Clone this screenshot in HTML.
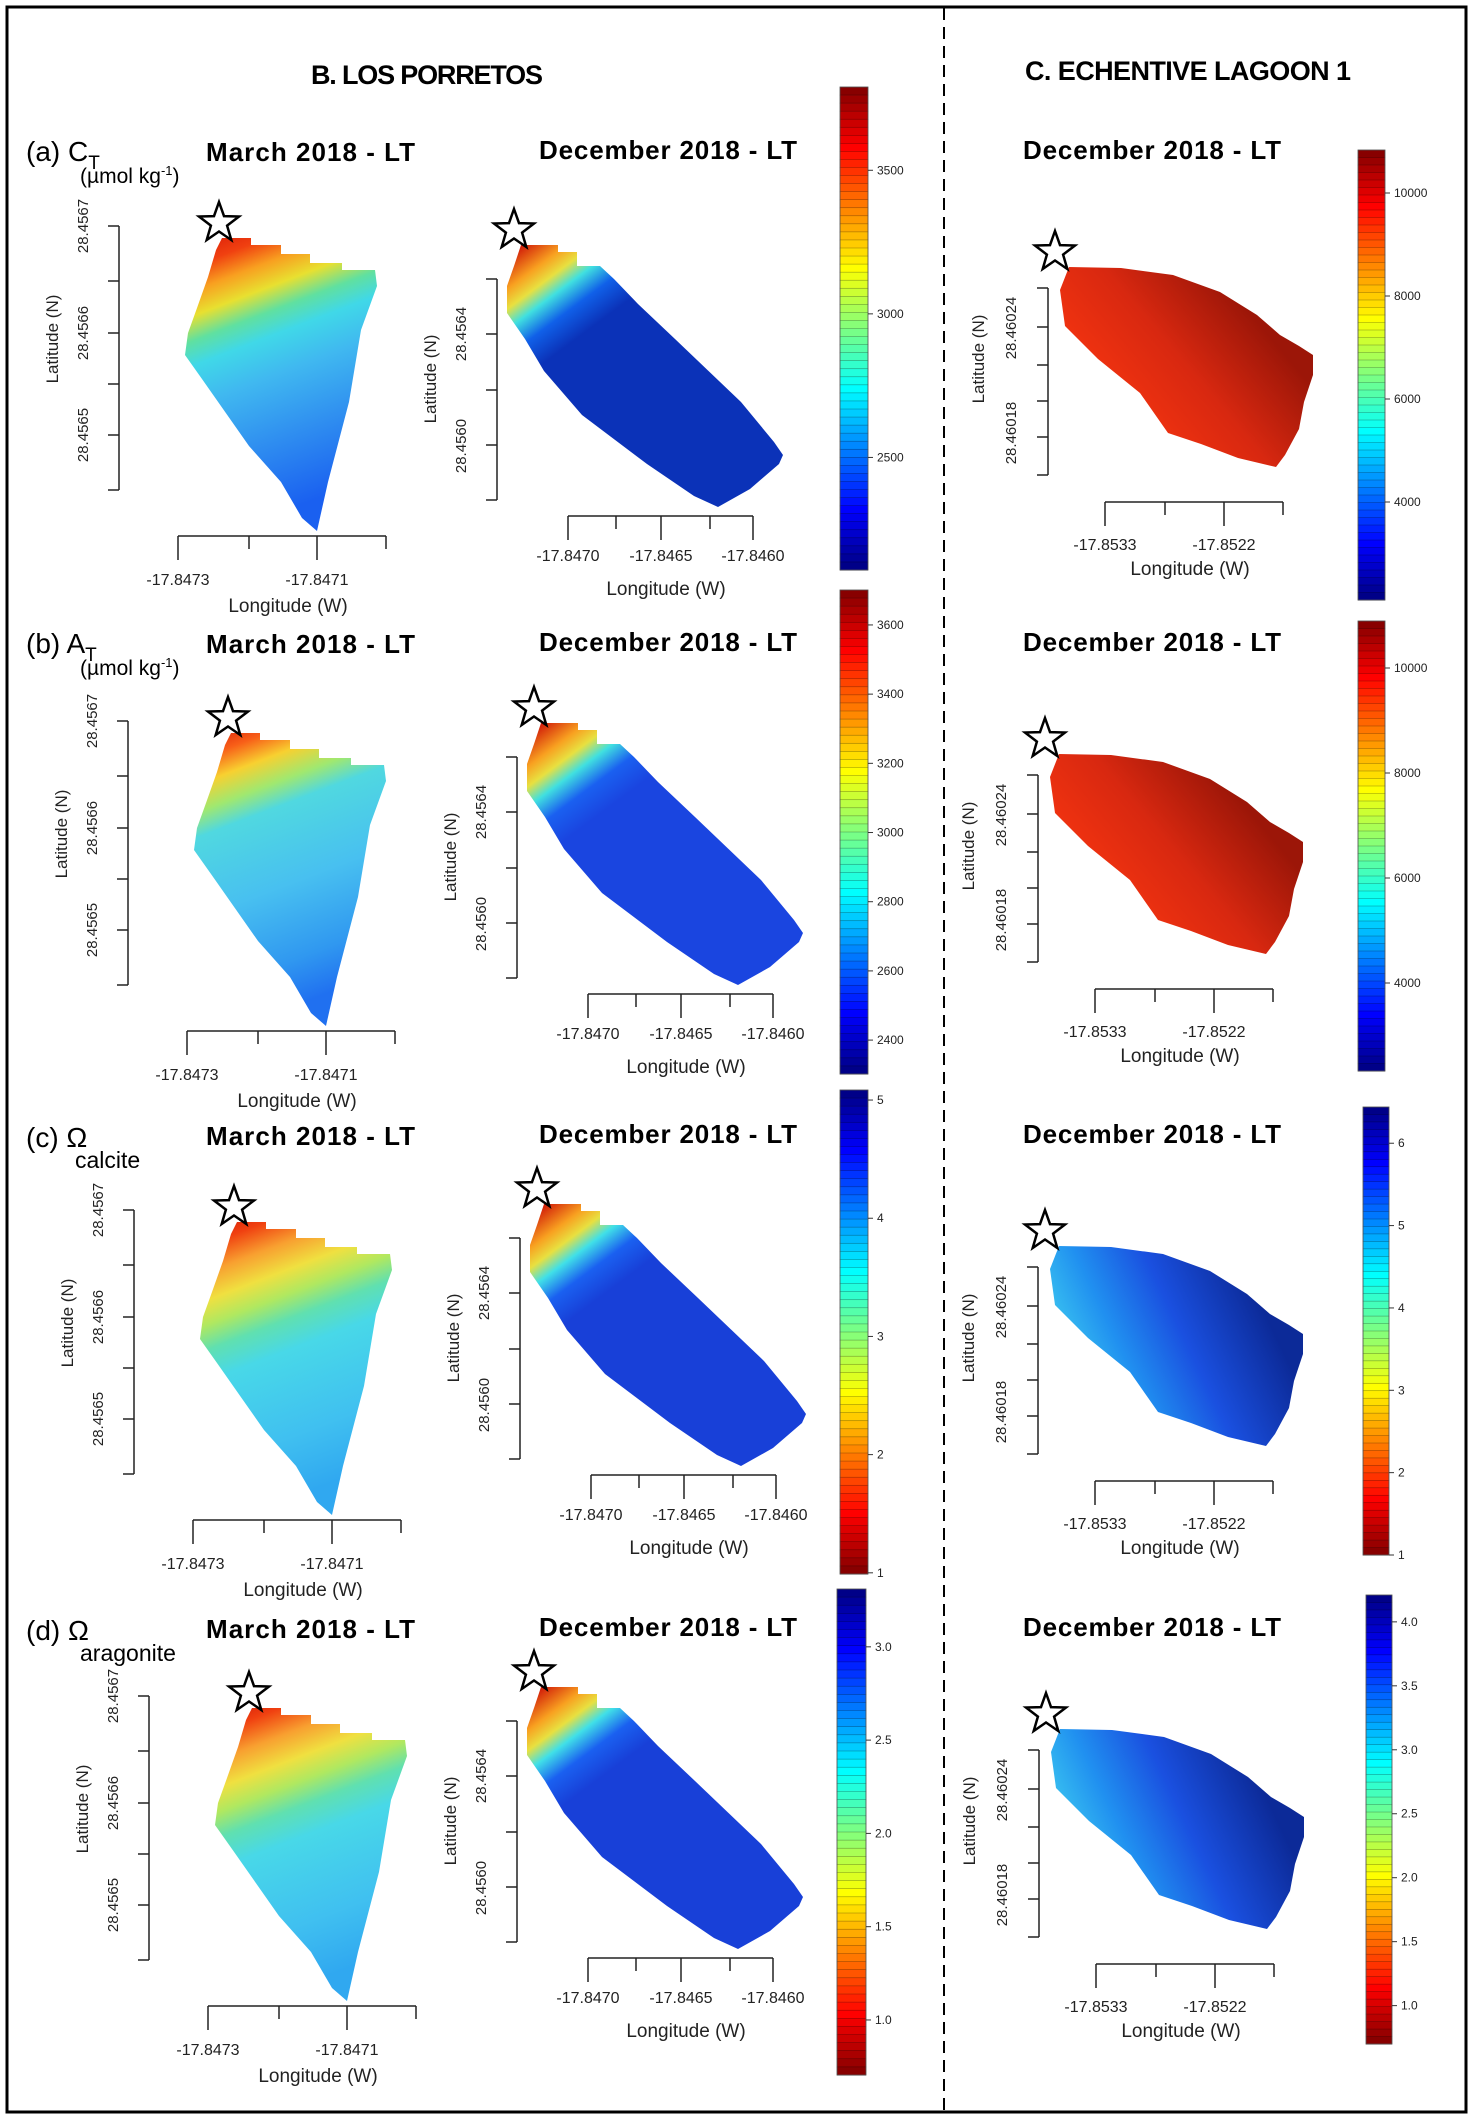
<!DOCTYPE html>
<html><head><meta charset="utf-8"><style>
html,body{margin:0;padding:0;background:#fff}
svg{display:block}
text{font-family:"Liberation Sans",sans-serif}
</style></head><body>
<svg id="fig" xmlns="http://www.w3.org/2000/svg" width="1471" height="2120" viewBox="0 0 1471 2120">
<rect x="0" y="0" width="1471" height="2120" fill="#fff"/>
<defs>
<linearGradient id="gMarA" x1="0" y1="0" x2="0.25" y2="1"><stop offset="0" stop-color="#d81808"/><stop offset="0.1" stop-color="#f04010"/><stop offset="0.18" stop-color="#f8a020"/><stop offset="0.26" stop-color="#e8e030"/><stop offset="0.34" stop-color="#60e0a0"/><stop offset="0.42" stop-color="#40d8e8"/><stop offset="0.55" stop-color="#40b8f0"/><stop offset="0.75" stop-color="#3090f0"/><stop offset="1" stop-color="#1a60f0"/></linearGradient>
<linearGradient id="gMarB" x1="0" y1="0" x2="0.25" y2="1"><stop offset="0" stop-color="#d81808"/><stop offset="0.09" stop-color="#f86018"/><stop offset="0.17" stop-color="#f8d030"/><stop offset="0.26" stop-color="#a0e870"/><stop offset="0.34" stop-color="#50d8e0"/><stop offset="0.6" stop-color="#48c0f0"/><stop offset="0.85" stop-color="#3098f0"/><stop offset="1" stop-color="#2070f0"/></linearGradient>
<linearGradient id="gMarC" x1="0" y1="0" x2="0.25" y2="1"><stop offset="0" stop-color="#d01808"/><stop offset="0.08" stop-color="#f04010"/><stop offset="0.17" stop-color="#f8a030"/><stop offset="0.26" stop-color="#f0e040"/><stop offset="0.34" stop-color="#b0e860"/><stop offset="0.42" stop-color="#60e0b0"/><stop offset="0.52" stop-color="#48d8e8"/><stop offset="0.8" stop-color="#40c0f0"/><stop offset="1" stop-color="#30a8f0"/></linearGradient>
<linearGradient id="gDecA" x1="0.05" y1="0" x2="0.3" y2="0.32"><stop offset="0" stop-color="#d01808"/><stop offset="0.25" stop-color="#f8a020"/><stop offset="0.4" stop-color="#e8e040"/><stop offset="0.55" stop-color="#40e0e0"/><stop offset="0.75" stop-color="#1060e8"/><stop offset="1" stop-color="#0b32b8"/></linearGradient>
<linearGradient id="gDecB" x1="0.05" y1="0" x2="0.3" y2="0.32"><stop offset="0" stop-color="#d01808"/><stop offset="0.25" stop-color="#f8a020"/><stop offset="0.4" stop-color="#e8e040"/><stop offset="0.55" stop-color="#40e0e0"/><stop offset="0.75" stop-color="#1a60f0"/><stop offset="1" stop-color="#1a45e0"/></linearGradient>
<linearGradient id="gDecC" x1="0.05" y1="0" x2="0.3" y2="0.32"><stop offset="0" stop-color="#d01808"/><stop offset="0.25" stop-color="#f8a020"/><stop offset="0.4" stop-color="#e8e040"/><stop offset="0.55" stop-color="#40e0e8"/><stop offset="0.75" stop-color="#1a60f0"/><stop offset="1" stop-color="#1840d8"/></linearGradient>
<linearGradient id="gLagR" x1="0.2" y1="0.7" x2="0.8" y2="0.3"><stop offset="0" stop-color="#f43410"/><stop offset="0.5" stop-color="#d82810"/><stop offset="1" stop-color="#9c1608"/></linearGradient>
<linearGradient id="gLagB" x1="0" y1="0.5" x2="0.8" y2="0.2"><stop offset="0" stop-color="#40d0f0"/><stop offset="0.3" stop-color="#2090f0"/><stop offset="0.6" stop-color="#1a50e0"/><stop offset="1" stop-color="#0c2a98"/></linearGradient>
</defs>
<g id="layer"></g>
</svg>
<script>
// ---- colorbar data (tick values and value ranges) ----
const cbBaTicks = [2500, 3000, 3500];
const cbBaRange = [2108, 3790];
const cbCaTicks = [4000, 6000, 8000, 10000];
const cbCaRange = [2097, 10835];
const cbBbTicks = [2400, 2600, 2800, 3000, 3200, 3400, 3600];
const cbBbRange = [2302, 3701];
const cbCbTicks = [4000, 6000, 8000, 10000];
const cbCbRange = [2324, 10895];
const cbBcTicks = [1, 2, 3, 4, 5];
const cbBcRange = [0.99, 5.085];
const cbCcTicks = [1, 2, 3, 4, 5, 6];
const cbCcRange = [1.0, 6.44];
const cbBdTicks = [1.0, 1.5, 2.0, 2.5, 3.0];
const cbBdRange = [0.705, 3.31];
const cbCdTicks = [1.0, 1.5, 2.0, 2.5, 3.0, 3.5, 4.0];
const cbCdRange = [0.70, 4.21];

const NS = "http://www.w3.org/2000/svg";
const layer = document.getElementById('layer');
function mk(tag, attrs, parent) {
  const e = document.createElementNS(NS, tag);
  for (const k in attrs) e.setAttribute(k, attrs[k]);
  (parent || layer).appendChild(e);
  return e;
}
function txt(s, attrs, parent) { const e = mk('text', attrs, parent); e.textContent = s; return e; }

let fr = mk('rect', {x:7, y:7, width:1459, height:2105, fill:'none', stroke:'#000', 'stroke-width':3});


let dv = mk('line', {x1:944, y1:8, x2:944, y2:2112, stroke:'#000', 'stroke-width':2, 'stroke-dasharray':'12,7'});



let h1 = txt('B. LOS PORRETOS', {x:427, y:84, 'text-anchor':'middle', 'font-size':27, 'font-weight':'bold', textLength:232});


let h2 = txt('C. ECHENTIVE LAGOON 1', {x:1188, y:80, 'text-anchor':'middle', 'font-size':27, 'font-weight':'bold', textLength:326});



function rowLabel(main, sub, y, supLabel, name) {
  const g = mk('g', {});
  
  
  const m = txt(main, {x:26, y:y, 'font-size':28}, g);
  if (sub) { const s = mk('tspan', {dy:8, 'font-size':19}, m); s.textContent = sub; }
  if (supLabel) {
    const t = txt('(µmol kg', {x:80, y:y+22, 'font-size':21}, g);
    const s = mk('tspan', {dy:-8, 'font-size':13}, t); s.textContent = '-1';
    const s2 = mk('tspan', {dy:8, 'font-size':21}, t); s2.textContent = ')';
  }
}
rowLabel('(a) C', 'T', 161, true, 'row-label-ct');
rowLabel('(b) A', 'T', 653, true, 'row-label-at');
rowLabel('(c) Ω', null, 1147, false, 'row-label-omega-calcite');
let sc = txt('calcite', {x:75, y:1168, 'font-size':23});  
rowLabel('(d) Ω', null, 1640, false, 'row-label-omega-aragonite');
let sd = txt('aragonite', {x:80, y:1661, 'font-size':23});  

const titleRowsY = [161, 653, 1145, 1638];
titleRowsY.forEach((y, i) => {
  let t1 = txt('March 2018 - LT', {x:206, y:y, 'font-size':26, 'font-weight':'bold', textLength:209});
  
  
  let t2 = txt('December 2018 - LT', {x:539, y:y-2, 'font-size':26, 'font-weight':'bold', textLength:258});
  
  
  let t3 = txt('December 2018 - LT', {x:1023, y:y-2, 'font-size':26, 'font-weight':'bold', textLength:258});
  
  
});

const shapeMarch = [[222,238],[251,238],[251,245],[281,245],[281,254],[310,254],[310,263],[342,263],[342,270],[375,270],[377,286],[361,330],[349,402],[328,482],[317,531],[302,518],[281,482],[249,446],[202,379],[185,355],[188,333],[197,308],[208,277],[216,250]];
const shapeDec = [[521,245],[558,245],[558,252],[577,252],[577,266],[600,266],[614,279],[638,304],[675,339],[741,402],[774,442],[783,455],[779,464],[750,489],[718,507],[694,496],[647,464],[582,415],[544,371],[525,339],[507,313],[507,286],[514,266]];
const shapeLag = [[1069,267],[1121,268],[1173,275],[1220,292],[1257,315],[1280,335],[1299,346],[1313,355],[1313,375],[1304,402],[1299,429],[1285,455],[1276,467],[1238,458],[1201,444],[1168,433],[1140,393],[1098,359],[1065,326],[1060,290]];

const tplMarch = {shape:shapeMarch, star:[219,223], yx:119, yticks:[226,281,333,384,435,490], ylabs:[[226,'28.4567'],[333,'28.4566'],[435,'28.4565']], ylabx:88, lat:[58,339],
  xy:536, xr:[178,386], xticks:[[178,1],[249,0],[317,1],[386,0]], xlabs:[[178,'-17.8473'],[317,'-17.8471']], xlaby:585, lon:[288,612]};
const tplDec = {shape:shapeDec, star:[514,230], yx:497, yticks:[279,334,390,445,500], ylabs:[[334,'28.4564'],[446,'28.4560']], ylabx:466, lat:[436,379],
  xy:516, xr:[568,753], xticks:[[568,1],[616,0],[661,1],[710,0],[753,1]], xlabs:[[568,'-17.8470'],[661,'-17.8465'],[753,'-17.8460']], xlaby:561, lon:[666,595]};
const tplLag = {shape:shapeLag, star:[1055,252], yx:1048, yticks:[288,327,365,401,437,475], ylabs:[[328,'28.46024'],[433,'28.46018']], ylabx:1016, lat:[984,359],
  xy:502, xr:[1105,1283], xticks:[[1105,1],[1165,0],[1224,1],[1283,0]], xlabs:[[1105,'-17.8533'],[1224,'-17.8522']], xlaby:550, lon:[1190,575]};

function starPts(cx, cy, R, r) {
  const p = [];
  for (let i = 0; i < 10; i++) {
    const a = -Math.PI/2 + i*Math.PI/5, rr = i%2 ? r : R;
    p.push((cx + rr*Math.cos(a)).toFixed(1) + ',' + (cy + rr*Math.sin(a)).toFixed(1));
  }
  return p.join(' ');
}

function panel(tpl, dx, dy, grad, name) {
  const g = mk('g', {transform:'translate(' + dx + ',' + dy + ')'});
  
  
  const poly = mk('polygon', {points: tpl.shape.map(p => p.join(',')).join(' '), fill:'url(#' + grad + ')'}, g);
  
  
  const st = mk('polygon', {points: starPts(tpl.star[0], tpl.star[1], 21, 8.5), fill:'#fff', stroke:'#000', 'stroke-width':2.5}, g);
  
  
  const ya = mk('g', {}, g);
  
  
  mk('line', {x1:tpl.yx, y1:tpl.yticks[0], x2:tpl.yx, y2:tpl.yticks[tpl.yticks.length-1], stroke:'#222', 'stroke-width':1.5}, ya);
  tpl.yticks.forEach(y => mk('line', {x1:tpl.yx-11, y1:y, x2:tpl.yx, y2:y, stroke:'#222', 'stroke-width':1.5}, ya));
  tpl.ylabs.forEach(l => {
    const t = txt(l[1], {x:tpl.ylabx, y:l[0], 'font-size':15, 'text-anchor':'middle', transform:'rotate(-90 ' + tpl.ylabx + ' ' + l[0] + ')', fill:'#222'}, ya);
    
    
  });
  const lt = txt('Latitude (N)', {x:tpl.lat[0], y:tpl.lat[1], 'font-size':17, 'text-anchor':'middle', transform:'rotate(-90 ' + tpl.lat[0] + ' ' + tpl.lat[1] + ')', fill:'#222'}, ya);
  
  
  const xa = mk('g', {}, g);
  
  
  mk('line', {x1:tpl.xr[0], y1:tpl.xy, x2:tpl.xr[1], y2:tpl.xy, stroke:'#222', 'stroke-width':1.5}, xa);
  tpl.xticks.forEach(t => mk('line', {x1:t[0], y1:tpl.xy, x2:t[0], y2:tpl.xy + (t[1] ? 24 : 13), stroke:'#222', 'stroke-width':1.5}, xa));
  tpl.xlabs.forEach(l => {
    const t = txt(l[1], {x:l[0], y:tpl.xlaby, 'font-size':16, 'text-anchor':'middle', fill:'#222'}, xa);
    
    
  });
  const lo = txt('Longitude (W)', {x:tpl.lon[0], y:tpl.lon[1], 'font-size':19, 'text-anchor':'middle', fill:'#222'}, xa);
  
  
}

panel(tplMarch, 0, 0, 'gMarA', 'map-ct-march');
panel(tplDec, 0, 0, 'gDecA', 'map-ct-december-porretos');
panel(tplLag, 0, 0, 'gLagR', 'map-ct-december-lagoon');
panel(tplMarch, 9, 495, 'gMarB', 'map-at-march');
panel(tplDec, 20, 478, 'gDecB', 'map-at-december-porretos');
panel(tplLag, -10, 487, 'gLagR', 'map-at-december-lagoon');
panel(tplMarch, 15, 984, 'gMarC', 'map-calcite-march');
panel(tplDec, 23, 959, 'gDecC', 'map-calcite-december-porretos');
panel(tplLag, -10, 979, 'gLagB', 'map-calcite-december-lagoon');
panel(tplMarch, 30, 1470, 'gMarC', 'map-aragonite-march');
panel(tplDec, 20, 1442, 'gDecC', 'map-aragonite-december-porretos');
panel(tplLag, -9, 1462, 'gLagB', 'map-aragonite-december-lagoon');

function jet(t) {
  const c = v => Math.round(255 * Math.max(0, Math.min(1, v)));
  return 'rgb(' + c(1.5 - Math.abs(4*t - 3)) + ',' + c(1.5 - Math.abs(4*t - 2)) + ',' + c(1.5 - Math.abs(4*t - 1)) + ')';
}
function colorbar(x, y0, y1, w, range, ticks, reversed, dec, name) {
  const g = mk('g', {});
  
  
  const ys = v => y1 - (v - range[0]) / (range[1] - range[0]) * (y1 - y0);
  const N = 60, h = (y1 - y0) / N;
  for (let i = 0; i < N; i++) {
    const t = 1 - (i + 0.5) / N;
    const col = jet(reversed ? 1 - t : t);
    const b = mk('rect', {x:x, y:(y0 + i*h).toFixed(2), width:w, height:(h+0.3).toFixed(2), fill:col, stroke:'rgba(0,0,0,0.35)', 'stroke-width':0.6}, g);
    
    
  }
  mk('rect', {x:x, y:y0, width:w, height:y1-y0, fill:'none', stroke:'#555', 'stroke-width':0.8}, g);
  ticks.forEach(v => {
    const yy = ys(v);
    mk('line', {x1:x+w, y1:yy, x2:x+w+5, y2:yy, stroke:'#333', 'stroke-width':1}, g);
    const t = txt(v.toFixed(dec), {x:x+w+9, y:yy+4, 'font-size':12, fill:'#222'}, g);
    
    
  });
}
colorbar(840, 87, 570, 28, cbBaRange, cbBaTicks, false, 0, 'colorbar-ct-porretos');
colorbar(1358, 150, 600, 27, cbCaRange, cbCaTicks, false, 0, 'colorbar-ct-lagoon');
colorbar(840, 590, 1074, 28, cbBbRange, cbBbTicks, false, 0, 'colorbar-at-porretos');
colorbar(1358, 621, 1071, 27, cbCbRange, cbCbTicks, false, 0, 'colorbar-at-lagoon');
colorbar(840, 1090, 1574, 28, cbBcRange, cbBcTicks, true, 0, 'colorbar-calcite-porretos');
colorbar(1363, 1107, 1555, 26, cbCcRange, cbCcTicks, true, 0, 'colorbar-calcite-lagoon');
colorbar(837, 1589, 2075, 29, cbBdRange, cbBdTicks, true, 1, 'colorbar-aragonite-porretos');
colorbar(1366, 1595, 2044, 26, cbCdRange, cbCdTicks, true, 1, 'colorbar-aragonite-lagoon');
</script>
</body></html>
